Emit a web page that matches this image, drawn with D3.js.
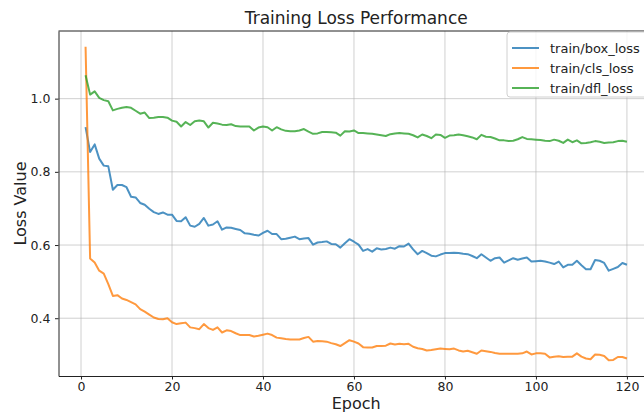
<!DOCTYPE html>
<html>
<head>
<meta charset="utf-8">
<script src="https://cdn.jsdelivr.net/npm/d3@7"></script>
<style>
  body { margin: 0; background: #fff; }
  svg text { font-family: "DejaVu Sans", sans-serif; fill: #222; }
</style>
</head>
<body>
<div id="chart"></div>
<script>
// values
const epochs = d3.range(1, 121);

const boxLoss = [
  0.922, 0.854, 0.875, 0.836, 0.817, 0.815, 0.751, 0.764, 0.764, 0.758,
  0.732, 0.730, 0.715, 0.710, 0.699, 0.690, 0.685, 0.689, 0.683, 0.683,
  0.666, 0.665, 0.676, 0.653, 0.650, 0.658, 0.674, 0.653, 0.656, 0.665,
  0.642, 0.648, 0.647, 0.644, 0.641, 0.632, 0.631, 0.628, 0.626, 0.633,
  0.639, 0.630, 0.630, 0.616, 0.617, 0.620, 0.623, 0.616, 0.618, 0.619,
  0.601, 0.607, 0.608, 0.610, 0.603, 0.602, 0.593, 0.605, 0.616, 0.609,
  0.601, 0.584, 0.589, 0.582, 0.591, 0.588, 0.589, 0.593, 0.590, 0.597,
  0.596, 0.604, 0.588, 0.575, 0.584, 0.578, 0.571, 0.569, 0.574, 0.578,
  0.578, 0.579, 0.578, 0.576, 0.575, 0.570, 0.564, 0.575, 0.566, 0.557,
  0.564, 0.566, 0.552, 0.558, 0.564, 0.560, 0.563, 0.566, 0.555, 0.556,
  0.557, 0.555, 0.552, 0.548, 0.555, 0.539, 0.546, 0.546, 0.557, 0.545,
  0.534, 0.534, 0.559, 0.557, 0.551, 0.530, 0.535, 0.540, 0.551, 0.546
];

const clsLoss = [
  1.142, 0.563, 0.552, 0.530, 0.522, 0.493, 0.461, 0.463, 0.454, 0.450,
  0.444, 0.438, 0.425, 0.418, 0.410, 0.402, 0.398, 0.397, 0.400, 0.389,
  0.384, 0.386, 0.388, 0.375, 0.373, 0.370, 0.384, 0.373, 0.368, 0.375,
  0.361, 0.367, 0.365, 0.359, 0.354, 0.354, 0.354, 0.350, 0.352, 0.355,
  0.358, 0.354, 0.347, 0.345, 0.343, 0.342, 0.342, 0.342, 0.346, 0.349,
  0.336, 0.338, 0.337, 0.336, 0.332, 0.329, 0.324, 0.332, 0.340, 0.336,
  0.331, 0.321, 0.320, 0.320, 0.324, 0.324, 0.325, 0.331, 0.328, 0.330,
  0.329, 0.330, 0.322, 0.318, 0.316, 0.312, 0.313, 0.315, 0.317, 0.316,
  0.315, 0.317, 0.312, 0.309, 0.311, 0.307, 0.303, 0.312, 0.310, 0.308,
  0.305, 0.303, 0.303, 0.303, 0.303, 0.303, 0.304, 0.309, 0.301, 0.304,
  0.304, 0.303, 0.293, 0.295, 0.296, 0.294, 0.295, 0.295, 0.304, 0.295,
  0.290, 0.288, 0.301, 0.300, 0.297, 0.285, 0.286, 0.294, 0.294, 0.290
];

const dflLoss = [
  1.064, 1.011, 1.020, 1.002, 0.996, 0.993, 0.968, 0.972, 0.975, 0.977,
  0.975, 0.967, 0.959, 0.962, 0.947, 0.948, 0.950, 0.950, 0.948, 0.940,
  0.937, 0.924, 0.936, 0.928, 0.938, 0.940, 0.938, 0.921, 0.934, 0.932,
  0.929, 0.928, 0.930, 0.925, 0.924, 0.924, 0.924, 0.913, 0.921, 0.924,
  0.922, 0.913, 0.922, 0.916, 0.912, 0.911, 0.911, 0.913, 0.917, 0.910,
  0.904, 0.905, 0.909, 0.909, 0.908, 0.907, 0.899, 0.911, 0.910, 0.913,
  0.906, 0.906, 0.905, 0.904, 0.902, 0.900, 0.898, 0.903, 0.905, 0.906,
  0.905, 0.904, 0.900, 0.894, 0.902, 0.898, 0.892, 0.902, 0.901, 0.893,
  0.899, 0.900, 0.902, 0.900, 0.897, 0.894, 0.889, 0.901, 0.896, 0.895,
  0.891, 0.886, 0.886, 0.884, 0.885, 0.889, 0.895, 0.890, 0.889, 0.888,
  0.887, 0.885, 0.884, 0.888, 0.885, 0.879, 0.888, 0.881, 0.886, 0.878,
  0.879, 0.881, 0.884, 0.882, 0.879, 0.880, 0.881, 0.884, 0.885, 0.882
];

const seriesNames = ["train/box_loss", "train/cls_loss", "train/dfl_loss"];
const seriesColors = ["#1f77b4", "#ff7f0e", "#2ca02c"];
const xTicks = [0, 20, 40, 60, 80, 100, 120];
const yTicks = [0.4, 0.6, 0.8, 1.0];

const width = 644, height = 412;
const plotLeft = 58.5, plotRight = 654, plotTop = 31, plotBottom = 376;

const series = [boxLoss, clsLoss, dflLoss].map((vals, i) => ({
  name: seriesNames[i],
  color: seriesColors[i],
  values: vals.map((v, j) => ({ epoch: epochs[j], value: v }))
}));

// matplotlib-like 5% margins
const xMin = d3.min(epochs), xMax = d3.max(epochs);
const xPad = (xMax - xMin) * 0.05;
const allVals = [].concat(boxLoss, clsLoss, dflLoss);
const yMin = d3.min(allVals), yMax = d3.max(allVals);
const yPad = (yMax - yMin) * 0.05;

const x = d3.scaleLinear().domain([xMin - xPad, xMax + xPad]).range([plotLeft, plotRight]);
const y = d3.scaleLinear().domain([yMin - yPad, yMax + yPad]).range([plotBottom, plotTop]);

const svg = d3.select("#chart").append("svg")
  .attr("width", width)
  .attr("height", height);

// grid
const grid = svg.append("g").attr("class", "grid");
grid.selectAll("line.gx").data(xTicks).enter().append("line")
  .attr("x1", d => x(d)).attr("x2", d => x(d))
  .attr("y1", plotTop).attr("y2", plotBottom)
  .attr("stroke", "#b0b0b0").attr("stroke-opacity", 0.6).attr("stroke-width", 1);
grid.selectAll("line.gy").data(yTicks).enter().append("line")
  .attr("x1", plotLeft).attr("x2", plotRight)
  .attr("y1", d => y(d)).attr("y2", d => y(d))
  .attr("stroke", "#b0b0b0").attr("stroke-opacity", 0.6).attr("stroke-width", 1);

// lines
const line = d3.line()
  .x(d => x(d.epoch))
  .y(d => y(d.value));

svg.append("g").selectAll("path")
  .data(series)
  .enter()
  .append("path")
  .attr("d", d => line(d.values))
  .attr("fill", "none")
  .attr("stroke", d => d.color)
  .attr("stroke-opacity", 0.8)
  .attr("stroke-width", 2)
  .attr("stroke-linejoin", "round");

// axes
const xAxis = svg.append("g")
  .attr("transform", `translate(0,${plotBottom})`)
  .call(d3.axisBottom(x).tickValues(xTicks).tickSizeInner(3.5).tickSizeOuter(0)
    .tickPadding(2.5).tickFormat(d3.format("d")));
const yAxis = svg.append("g")
  .attr("transform", `translate(${plotLeft},0)`)
  .call(d3.axisLeft(y).tickValues(yTicks).tickSizeInner(3.5).tickSizeOuter(0)
    .tickPadding(4.5).tickFormat(d3.format(".1f")));

[xAxis, yAxis].forEach(ax => {
  ax.select(".domain").attr("stroke", "#222").attr("stroke-width", 1);
  ax.selectAll(".tick line").attr("stroke", "#222");
  ax.selectAll(".tick text")
    .attr("font-family", "DejaVu Sans")
    .attr("font-size", 12.5)
    .attr("fill", "#222");
});

// top spine
svg.append("line")
  .attr("x1", plotLeft).attr("x2", plotRight)
  .attr("y1", plotTop).attr("y2", plotTop)
  .attr("stroke", "#222").attr("stroke-width", 1);

// title and labels
svg.append("text")
  .attr("x", (plotLeft + plotRight) / 2)
  .attr("y", 24)
  .attr("text-anchor", "middle")
  .attr("font-size", 17)
  .text("Training Loss Performance");

svg.append("text")
  .attr("x", (plotLeft + plotRight) / 2)
  .attr("y", 408.5)
  .attr("text-anchor", "middle")
  .attr("font-size", 16)
  .text("Epoch");

svg.append("text")
  .attr("transform", `translate(26,${(plotTop + plotBottom) / 2}) rotate(-90)`)
  .attr("text-anchor", "middle")
  .attr("font-size", 16)
  .text("Loss Value");

// legend
const legend = svg.append("g").attr("transform", "translate(507,32)");
legend.append("rect")
  .attr("width", 150).attr("height", 65)
  .attr("rx", 3)
  .attr("fill", "#fff").attr("fill-opacity", 0.8)
  .attr("stroke", "#d0d0d0");

const items = legend.selectAll("g.item")
  .data(series)
  .enter()
  .append("g")
  .attr("transform", (d, i) => `translate(0,${16 + i * 20})`);
items.append("line")
  .attr("x1", 5).attr("x2", 32)
  .attr("stroke", d => d.color)
  .attr("stroke-opacity", 0.8)
  .attr("stroke-width", 2);
items.append("text")
  .attr("x", 43)
  .attr("y", 4.5)
  .attr("font-size", 13)
  .text(d => d.name);
</script>
</body>
</html>
